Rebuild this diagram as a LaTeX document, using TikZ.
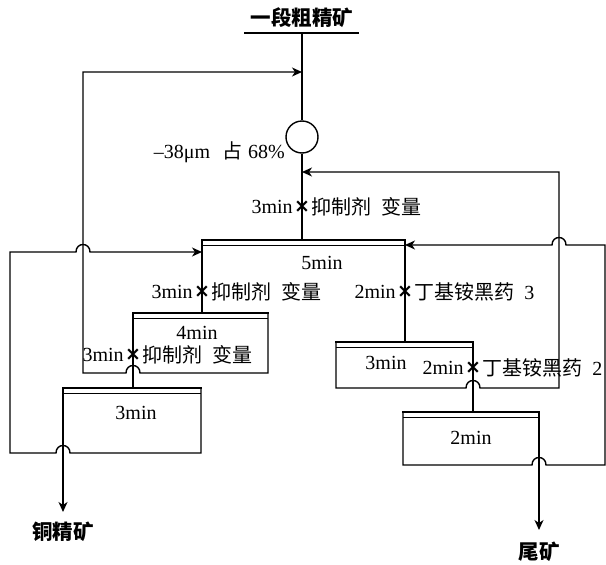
\documentclass[tikz,border=0pt]{standalone}
\usepackage{fontspec}
\setmainfont{Liberation Serif}
\newfontfamily\cjk{Noto Sans CJK SC}
\newfontfamily\markfont{DejaVu Sans}
\usetikzlibrary{arrows.meta}
\begin{document}
\begin{tikzpicture}[x=1pt,y=-1pt,
  flow/.style={line width=1.4pt},
  arr/.style={flow,-{Stealth[length=10pt,width=9pt,inset=3pt]}},
  celltop/.style={line width=2.8pt},
  cellsub/.style={line width=1pt},
  lbl/.style={inner sep=0pt,font=\fontsize{20}{22}\selectfont},
  cj/.style={inner sep=0pt,font=\cjk\fontsize{20}{22}\selectfont},
  ttl/.style={inner sep=0pt,font=\cjk\bfseries\fontsize{20.5}{22}\selectfont},
  mk/.style={inner sep=0pt,font=\markfont\bfseries\fontsize{19}{20}\selectfont},
  mill/.style={circle,draw,line width=1.4pt,minimum size=32pt,inner sep=0pt}
]
\useasboundingbox (0,0) rectangle (606,565);

% feed
\node[ttl] (feed) at (302,18) {一段粗精矿};
\coordinate (ulL) at (244,33);
\coordinate (ulR) at (359,33);
\draw[line width=1.6pt] (ulL) -- (ulR);
\coordinate (top) at (302,33);
\coordinate (j1) at (302,72);
\coordinate (j2) at (302,172);
\node[mill] (mill) at (302,137) {};
\node[lbl,anchor=east] (size) at (285,152) {–38μm\hspace{0.6em}{\cjk 占}\hspace{0.3em}68\%};

% cell corners
\coordinate (Ra) at (202,240); \coordinate (Rb) at (405,240); \coordinate (Rc) at (302,240);
\coordinate (Aa) at (133,313); \coordinate (Ab) at (268,313);
\coordinate (Ba) at (63,388);  \coordinate (Bb) at (201,388);
\coordinate (Sa) at (336,342); \coordinate (Sb) at (473,342);
\coordinate (Ta) at (403,412); \coordinate (Tb) at (539,412);

% cell tops (double line)
\foreach \p/\q in {Ra/Rb,Aa/Ab,Ba/Bb,Sa/Sb,Ta/Tb}{
  \draw[celltop] ([xshift=-0.7pt]\p) -- ([xshift=0.7pt]\q);
  \draw[cellsub] ([yshift=-5pt]\p) -- ([yshift=-5pt]\q);
}

% main feed line
\draw[flow] (top) -- (mill.north);
\draw[flow] (mill.south) -- (Rc);

% rougher 5min
\draw[flow] (Ra) -- (202,313);
\draw[flow] (Rb) -- (405,342);

% cleaner 4min
\draw[flow] (Aa) -- (133,388);
\draw[arr] (Ab) -- (268,373) -- (140,373) .. controls (140,363) and (126,363) .. (126,373) -- (83,373) -- (83,72) -- (j1);

% cleaner 3min
\draw[arr] (Ba) -- (63,512);
\draw[arr] (Bb) -- (201,453) -- (70,453) .. controls (70,443) and (56,443) .. (56,453) -- (10,453) -- (10,252) -- (76,252) .. controls (76,242) and (90,242) .. (90,252) -- (202,252);

% scavenger 3min
\draw[arr] (Sa) -- (336,388) -- (466,388) .. controls (466,378) and (480,378) .. (480,388) -- (559,388) -- (559,172) -- (j2);
\draw[flow] (Sb) -- (473,412);

% scavenger 2min
\draw[arr] (Ta) -- (403,465) -- (532,465) .. controls (532,455) and (546,455) .. (546,465) -- (605,465) -- (605,245) -- (566,245) .. controls (566,235) and (552,235) .. (552,245) -- (405,245);
\draw[arr] (Tb) -- (539,530);

% products
\node[ttl] (conc) at (63,532) {铜精矿};
\node[ttl] (tail) at (539,552) {尾矿};

% cell texts
\node[lbl] (t5) at (322,263) {5min};
\node[lbl] (t4) at (197,333) {4min};
\node[lbl] (t3c) at (136,413) {3min};
\node[lbl] (t3s) at (386,363) {3min};
\node[lbl] (t2) at (471,438) {2min};

% reagent additions
\node[mk] (xA) at (302,207) {×};
\node[lbl,anchor=east] (tA) at ([xshift=-1pt]xA.west) {3min};
\node[cj,anchor=west] (cA) at ([xshift=1pt]xA.east) {抑制剂\hspace{0.5em}变量};

\node[mk] (xB) at (202,292) {×};
\node[lbl,anchor=east] (tB) at ([xshift=-1pt]xB.west) {3min};
\node[cj,anchor=west] (cB) at ([xshift=1pt]xB.east) {抑制剂\hspace{0.5em}变量};

\node[mk] (xC) at (405,292) {×};
\node[lbl,anchor=east] (tC) at ([xshift=-1pt]xC.west) {2min};
\node[cj,anchor=west] (cC) at ([xshift=1pt]xC.east) {丁基铵黑药\hspace{0.5em}{\fontspec{Liberation Serif}\fontsize{20}{22}\selectfont 3}};

\node[mk] (xD) at (133,355) {×};
\node[lbl,anchor=east] (tD) at ([xshift=-1pt]xD.west) {3min};
\node[cj,anchor=west] (cD) at ([xshift=1pt]xD.east) {抑制剂\hspace{0.5em}变量};

\node[mk] (xE) at (473,368) {×};
\node[lbl,anchor=east] (tE) at ([xshift=-1pt]xE.west) {2min};
\node[cj,anchor=west] (cE) at ([xshift=1pt]xE.east) {丁基铵黑药\hspace{0.5em}{\fontspec{Liberation Serif}\fontsize{20}{22}\selectfont 2}};
\end{tikzpicture}
\end{document}
